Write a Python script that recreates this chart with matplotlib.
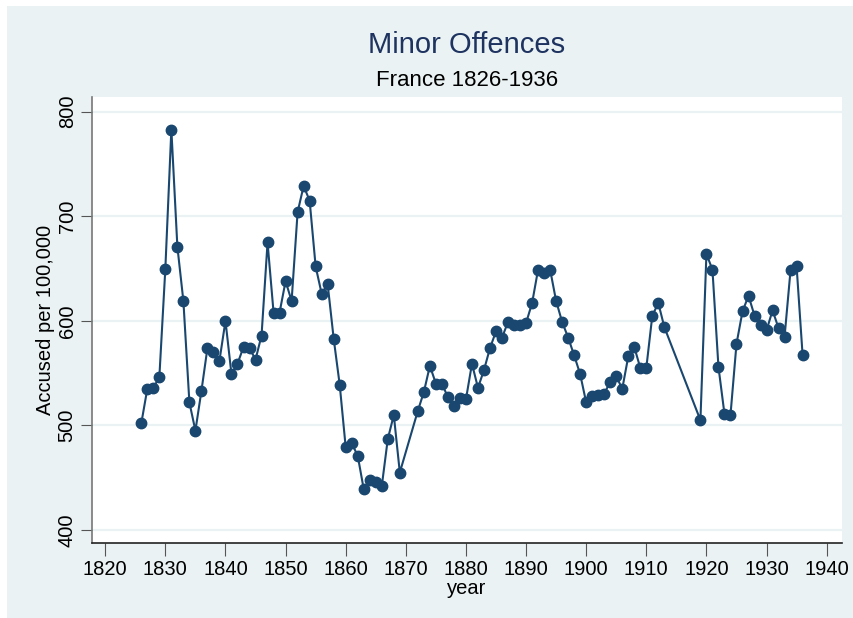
import matplotlib.pyplot as plt
from matplotlib.patches import Rectangle

plt.rcParams['font.family'] = ['Liberation Sans', 'DejaVu Sans']

years = ([y for y in range(1826, 1870)] + [y for y in range(1872, 1914)]
         + [y for y in range(1919, 1937)])

offences = [
    502, 535, 536, 546, 650, 783, 671, 619, 522, 495,   # 1826-1835
    533, 574, 570, 562, 600, 549, 559, 575, 574, 563,   # 1836-1845
    586, 675, 608, 608, 638, 619, 704, 729, 715, 652,   # 1846-1855
    626, 635, 583, 539, 479, 483, 471, 439, 448, 446,   # 1856-1865
    442, 487, 510, 455,                                  # 1866-1869
    514, 532, 557, 540, 540, 527, 519, 526, 525, 559,   # 1872-1881
    536, 553, 574, 590, 584, 599, 596, 596, 598, 617,   # 1882-1891
    649, 646, 649, 619, 599, 584, 567, 549, 522, 528,   # 1892-1901
    529, 530, 542, 547, 535, 566, 575, 555, 555, 605,   # 1902-1911
    617, 594,                                            # 1912-1913
    505, 664, 649, 556, 511, 510, 578, 609, 624, 605,   # 1919-1928
    596, 591, 610, 593, 585, 649, 652, 567,             # 1929-1936
]

x_ticks = [1820, 1830, 1840, 1850, 1860, 1870, 1880, 1890, 1900, 1910, 1920, 1930, 1940]
y_ticks = [400, 500, 600, 700, 800]

navy = '#1a476f'
bg = '#eaf2f3'

fig = plt.figure(figsize=(8.54, 6.18), dpi=100, facecolor='white')
fig.patches.append(Rectangle((7 / 854, 0), 1 - 7 / 854, 1 - 6 / 618,
                             transform=fig.transFigure, facecolor=bg,
                             edgecolor='none', zorder=-10))

ax = fig.add_axes([92 / 854, (618 - 543.3) / 618, (841.7 - 92) / 854, (543.3 - 97.3) / 618])
ax.set_facecolor('white')

ax.plot(years, offences, color=navy, lw=1.5, marker='o', ms=7.5,
        markerfacecolor=navy, markeredgecolor=navy, zorder=3)

ax.set_xlim(1817.8, 1942.5)
ax.set_ylim(387.3, 813.8)
ax.set_xticks(x_ticks)
ax.set_yticks(y_ticks)
ax.set_yticklabels([str(v) for v in y_ticks], rotation=90, va='center')
for v in y_ticks:
    ax.axhline(v, color=bg, lw=1.6, zorder=1)

for s in ['top', 'right']:
    ax.spines[s].set_visible(False)
ax.spines['left'].set_color('#777777')
ax.spines['bottom'].set_color('#222222')
ax.spines['left'].set_linewidth(1.2)
ax.spines['bottom'].set_linewidth(1.2)
ax.tick_params(axis='y', length=8, color='#555555', labelsize=14.5, pad=3)
ax.tick_params(axis='x', length=9, color='#555555', labelsize=14.5, pad=3)

ax.set_xlabel('year', fontsize=14.5, labelpad=0)
ax.set_ylabel('Accused per 100,000', fontsize=14.5, labelpad=2)

fig.text(467 / 854, 1 - 45 / 618, 'Minor Offences', ha='center', va='center',
         fontsize=21, color='#1e3360')
fig.text(467 / 854, 1 - 81 / 618, 'France 1826-1936', ha='center', va='center',
         fontsize=16, color='black')

fig.savefig('out.png', dpi=100, facecolor=fig.get_facecolor())
